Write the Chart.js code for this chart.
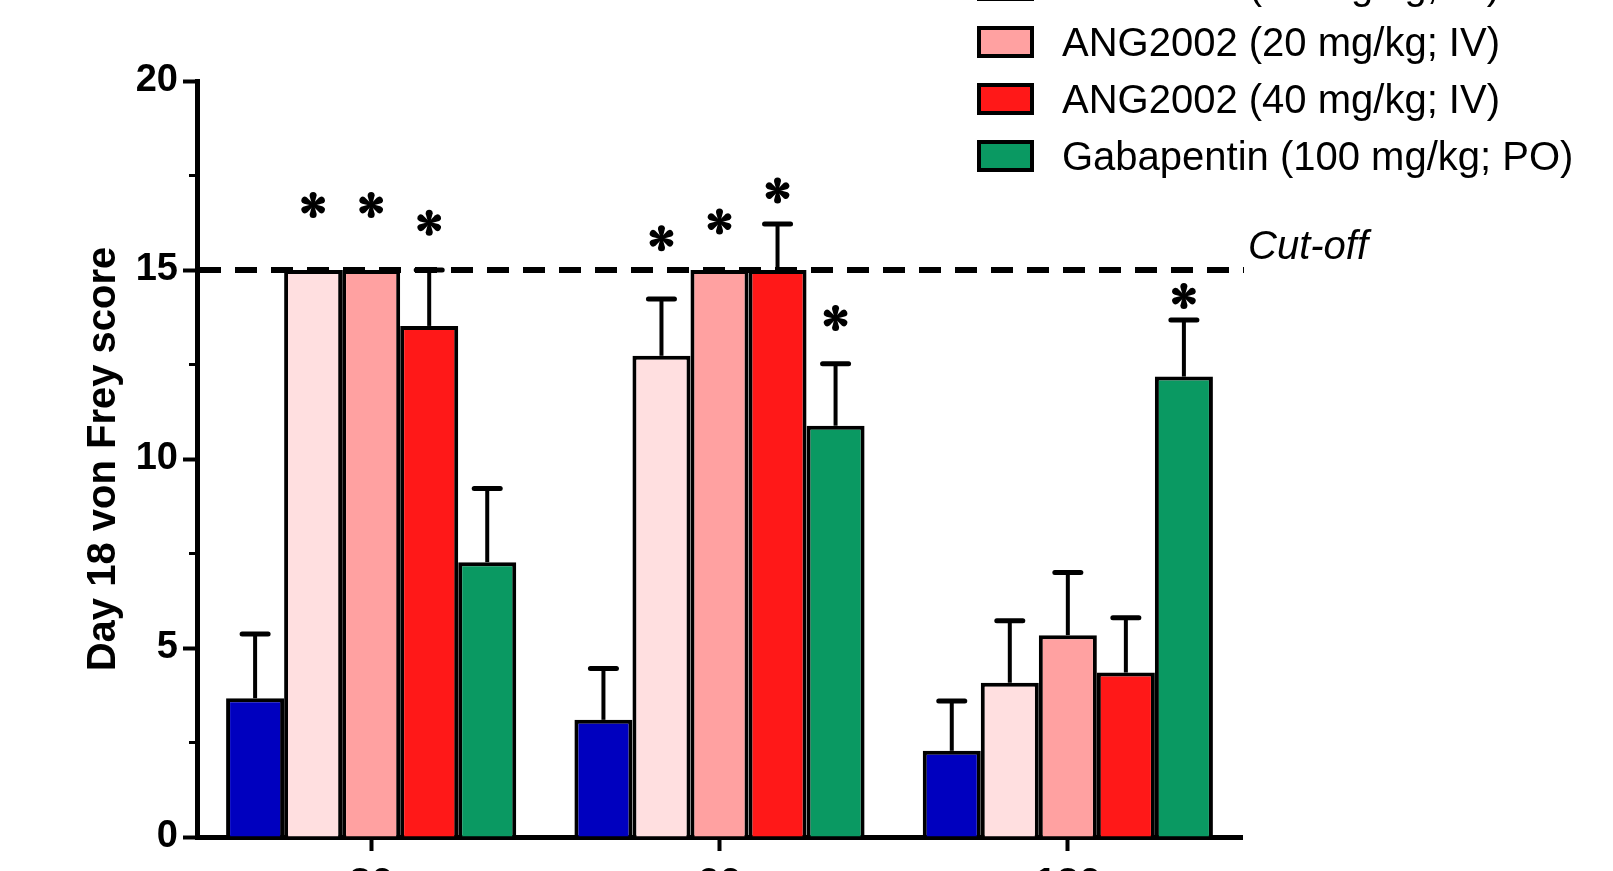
<!DOCTYPE html>
<html lang="en">
<head>
    <meta charset="UTF-8">
    <title>Day 18 von Frey score</title>
    <script src="https://cdn.jsdelivr.net/npm/chart.js"></script>
    <style>
        body {
            margin: 0;
            padding: 0;
            background: #fff;
            overflow: hidden;
        }
        #wrap {
            width: 1613px;
            height: 871px;
        }
    </style>
</head>
<body>

    <div id="wrap">
        <canvas id="vf-chart" width="1613" height="871"></canvas>
    </div>

    <script>
        // time points (min)
        const timePoints = ['30', '60', '120'];

        const groupLabels = [
            'Vehicle (IV)',
            'ANG2002 (10 mg/kg; IV)',
            'ANG2002 (20 mg/kg; IV)',
            'ANG2002 (40 mg/kg; IV)',
            'Gabapentin (100 mg/kg; PO)'
        ];
        const groupColors = ['#0000BF', '#FFDFE0', '#FFA1A1', '#FF1818', '#0A9962'];

        // means
        const vehicleMean = [3.67, 3.10, 2.28];
        const ang10Mean = [15.0, 12.73, 4.08];
        const ang20Mean = [15.0, 15.0, 5.34];
        const ang40Mean = [13.52, 15.0, 4.35];
        const gabaMean = [7.27, 10.88, 12.18];

        // SEM
        const vehicleSem = [1.70, 1.36, 1.32];
        const ang10Sem = [0, 1.50, 1.64];
        const ang20Sem = [0, 0, 1.66];
        const ang40Sem = [1.48, 1.22, 1.45];
        const gabaSem = [1.95, 1.64, 1.50];

        // level of the * marks (null = not significant)
        const vehicleStar = [null, null, null];
        const ang10Star = [16.72, 15.84, null];
        const ang20Star = [16.72, 16.28, null];
        const ang40Star = [16.25, 17.1, null];
        const gabaStar = [null, 13.73, 14.31];

        const cutOff = 15;
        const yTicks = [0, 5, 10, 15, 20];

        const means = [vehicleMean, ang10Mean, ang20Mean, ang40Mean, gabaMean];
        const sems = [vehicleSem, ang10Sem, ang20Sem, ang40Sem, gabaSem];
        const stars = [vehicleStar, ang10Star, ang20Star, ang40Star, gabaStar];

        const fontFam = "'Liberation Sans', Arial, sans-serif";

        // error bars, cut-off line, stars, minor ticks, legend
        const extras = {
            id: 'extras',
            afterDatasetsDraw(chart) {
                const ctx = chart.ctx;
                const y = chart.scales.y;
                const area = chart.chartArea;
                ctx.save();

                // error bars (upper only)
                ctx.strokeStyle = '#000';
                chart.data.datasets.forEach((ds, d) => {
                    const meta = chart.getDatasetMeta(d);
                    meta.data.forEach((bar, i) => {
                        const err = sems[d][i];
                        if (!err) return;
                        const top = y.getPixelForValue(means[d][i]);
                        const end = y.getPixelForValue(means[d][i] + err);
                        ctx.lineWidth = 4;
                        ctx.lineCap = 'butt';
                        ctx.beginPath();
                        ctx.moveTo(bar.x, top);
                        ctx.lineTo(bar.x, end);
                        ctx.stroke();
                        ctx.lineWidth = 5;
                        ctx.lineCap = 'round';
                        ctx.beginPath();
                        ctx.moveTo(bar.x - 13, end);
                        ctx.lineTo(bar.x + 13, end);
                        ctx.stroke();
                    });
                });

                // cut-off line
                const yc = y.getPixelForValue(cutOff);
                ctx.lineCap = 'butt';
                ctx.lineWidth = 6;
                ctx.setLineDash([22, 14]);
                ctx.beginPath();
                ctx.moveTo(area.left + 2, yc);
                ctx.lineTo(area.right + 2, yc);
                ctx.stroke();
                ctx.setLineDash([]);
                ctx.fillStyle = '#000';
                ctx.font = 'italic 40px ' + fontFam;
                ctx.textAlign = 'left';
                ctx.textBaseline = 'alphabetic';
                ctx.fillText('Cut-off', area.right + 6, yc - 11);

                // stars
                chart.data.datasets.forEach((ds, d) => {
                    const meta = chart.getDatasetMeta(d);
                    meta.data.forEach((bar, i) => {
                        const s = stars[d][i];
                        if (s == null) return;
                        drawStar(ctx, bar.x, y.getPixelForValue(s));
                    });
                });

                ctx.restore();
            },
            afterDraw(chart) {
                const ctx = chart.ctx;
                const y = chart.scales.y;
                const area = chart.chartArea;
                ctx.save();

                // minor ticks on y
                ctx.strokeStyle = '#000';
                ctx.lineWidth = 3;
                for (let i = 0; i < yTicks.length - 1; i++) {
                    const v = (yTicks[i] + yTicks[i + 1]) / 2;
                    const py = y.getPixelForValue(v);
                    ctx.beginPath();
                    ctx.moveTo(area.left, py);
                    ctx.lineTo(area.left - 8, py);
                    ctx.stroke();
                }

                // legend, stacked in the upper right
                ctx.font = '40px ' + fontFam;
                ctx.textAlign = 'left';
                ctx.textBaseline = 'alphabetic';
                chart.data.datasets.forEach((ds, d) => {
                    const cy = 42 + (d - 2) * 57;
                    ctx.fillStyle = ds.backgroundColor;
                    ctx.fillRect(979, cy - 14, 53, 28);
                    ctx.lineWidth = 4;
                    ctx.strokeStyle = '#000';
                    ctx.strokeRect(979, cy - 14, 53, 28);
                    ctx.fillStyle = '#000';
                    ctx.fillText(ds.label, 1062, cy + 14);
                });

                ctx.restore();
            }
        };

        function drawStar(ctx, x, y) {
            ctx.save();
            ctx.translate(x, y);
            ctx.fillStyle = '#000';
            for (let k = 0; k < 6; k++) {
                ctx.save();
                ctx.rotate(k * Math.PI / 3);
                ctx.beginPath();
                ctx.moveTo(-1, 0);
                ctx.lineTo(-3.4, -8.5);
                ctx.arc(0, -9.5, 3.5, Math.PI, 0);
                ctx.lineTo(1, 0);
                ctx.closePath();
                ctx.fill();
                ctx.restore();
            }
            ctx.restore();
        }

        const ctxVf = document.getElementById('vf-chart').getContext('2d');
        const vfChart = new Chart(ctxVf, {
            type: 'bar',
            data: {
                labels: timePoints,
                datasets: groupLabels.map((label, d) => ({
                    label: label,
                    data: means[d],
                    backgroundColor: groupColors[d],
                    borderColor: '#000',
                    borderWidth: 4,
                    borderSkipped: 'start',
                    categoryPercentage: 0.833,
                    barPercentage: 1.0
                }))
            },
            options: {
                responsive: false,
                animation: false,
                devicePixelRatio: 1,
                layout: {
                    padding: { left: 80, top: 81, right: 371, bottom: 0 }
                },
                scales: {
                    x: {
                        z: 1,
                        border: { display: true, color: '#000', width: 5 },
                        grid: {
                            offset: false,
                            drawOnChartArea: false,
                            drawTicks: true,
                            tickLength: 14,
                            tickWidth: 4,
                            tickColor: '#000'
                        },
                        ticks: {
                            color: '#000',
                            padding: 10,
                            font: { family: fontFam, size: 40, weight: 'bold' }
                        },
                        afterFit(scale) { scale.height = 34; }
                    },
                    y: {
                        z: 1,
                        min: 0,
                        max: 20,
                        border: { display: true, color: '#000', width: 5 },
                        grid: {
                            drawOnChartArea: false,
                            drawTicks: true,
                            tickLength: 14,
                            tickWidth: 4,
                            tickColor: '#000'
                        },
                        afterBuildTicks(scale) {
                            scale.ticks = yTicks.map(v => ({ value: v }));
                        },
                        ticks: {
                            color: '#000',
                            padding: 5,
                            font: { family: fontFam, size: 38, weight: 'bold' }
                        },
                        title: {
                            display: true,
                            text: 'Day 18 von Frey score',
                            color: '#000',
                            padding: { top: 0, bottom: 0 },
                            font: { family: fontFam, size: 40, weight: 'bold' }
                        },
                        afterFit(scale) { scale.width = 117; }
                    }
                },
                plugins: {
                    legend: { display: false },
                    tooltip: { enabled: false }
                }
            },
            plugins: [extras]
        });
    </script>

</body>
</html>
